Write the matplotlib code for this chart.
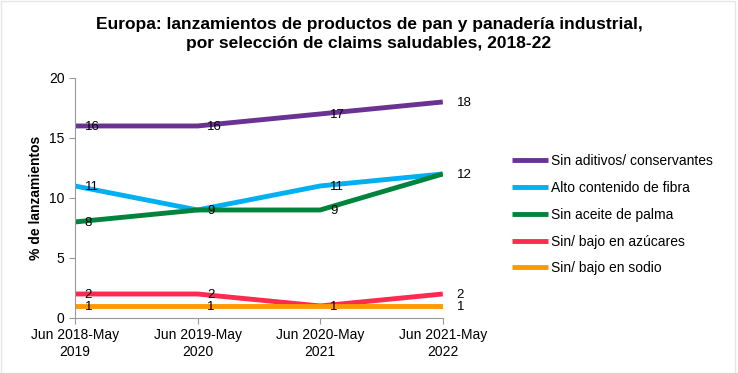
import matplotlib.pyplot as plt
from matplotlib.patches import Rectangle

plt.rcParams["font.family"] = ["Liberation Sans", "DejaVu Sans"]

periods = ["Jun 2018-May\n2019", "Jun 2019-May\n2020", "Jun 2020-May\n2021", "Jun 2021-May\n2022"]
series_names = [
    "Sin aditivos/ conservantes",
    "Alto contenido de fibra",
    "Sin aceite de palma",
    "Sin/ bajo en azúcares",
    "Sin/ bajo en sodio",
]
aditivos = [16, 16, 17, 18]
fibra = [11, 9, 11, 12]
palma = [8, 9, 9, 12]
azucares = [2, 2, 1, 2]
sodio = [1, 1, 1, 1]
colors = ["#6a3393", "#00b0f0", "#00843d", "#ff2a50", "#ff9900"]

fig = plt.figure(figsize=(7.38, 3.73), dpi=100)
ax = fig.add_axes([0.1016, 0.1475, 0.4984, 0.6435])

x = list(range(len(periods)))
all_series = [aditivos, fibra, palma, azucares, sodio]
for name, vals, col in zip(series_names, all_series, colors):
    ax.plot(x, vals, color=col, linewidth=3.5, label=name, solid_capstyle="butt")

# value labels, skip ones hidden behind another series' label
for vals in all_series:
    for i, v in enumerate(vals):
        if (vals is fibra and i in (1, 3)) or (vals is sodio and i == 2):
            continue
        off = 10 if i == len(vals) - 1 else 7
        ax.annotate(f"{v}", (i, v), xytext=(off, -1), textcoords="offset points",
                    ha="left", va="center", fontsize=9.5, color="black",
                    annotation_clip=False)

ax.set_xlim(0, 3)
ax.set_ylim(0, 20)
ax.set_yticks([0, 5, 10, 15, 20])
ax.set_xticks(x)
ax.set_xticklabels(periods, fontsize=10)
ax.tick_params(axis="y", labelsize=10, direction="out", length=4, color="#999999")
ax.tick_params(axis="x", direction="out", length=4, color="#999999")
ax.set_ylabel("% de lanzamientos", fontsize=10, fontweight="bold")

for side in ["top", "right"]:
    ax.spines[side].set_visible(False)
for side in ["left", "bottom"]:
    ax.spines[side].set_color("#999999")

fig.suptitle("Europa: lanzamientos de productos de pan y panadería industrial,\n"
             "por selección de claims saludables, 2018-22",
             x=0.5, y=0.955, fontsize=12.5, fontweight="bold", linespacing=1.35)

ax.legend(loc="center left", bbox_to_anchor=(1.155, 0.43), frameon=False,
          fontsize=10, handlelength=2.6, handletextpad=0.2, labelspacing=0.92)

fig.patches.append(Rectangle((0.001, 0.001), 0.995, 0.995, transform=fig.transFigure,
                             fill=False, edgecolor="#e6e6e6", linewidth=1))

fig.savefig("out.png", dpi=100)
